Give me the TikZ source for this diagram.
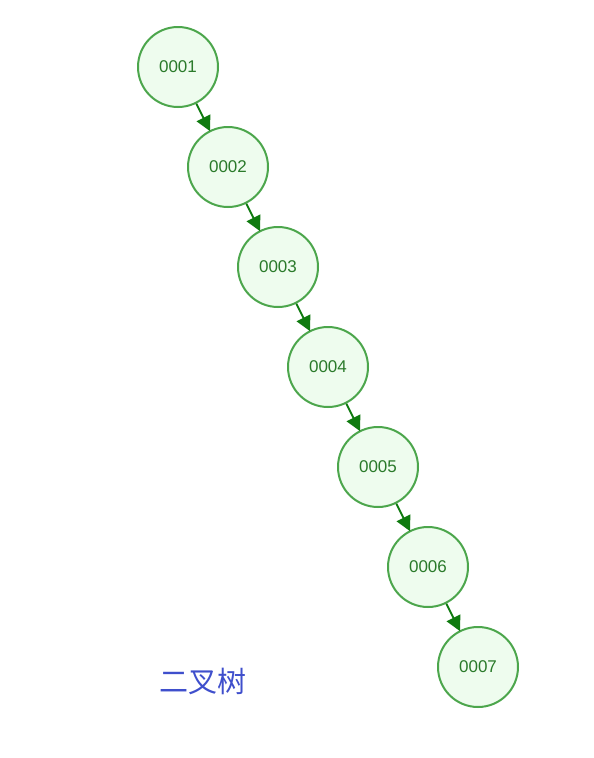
\documentclass[tikz,border=0pt]{standalone}
\usepackage{fontspec}
\setmainfont{Liberation Sans}
\newfontfamily\cjk{Noto Sans CJK SC}
\usetikzlibrary{arrows.meta}
\definecolor{nodeline}{HTML}{4CA64C}
\definecolor{nodefill}{HTML}{EEFCEE}
\definecolor{nodetext}{HTML}{2A7A2A}
\definecolor{arrowcol}{HTML}{0E7A0E}
\definecolor{labelblue}{HTML}{3F4FCC}
\begin{document}
\begin{tikzpicture}[x=1pt,y=-1pt,
  treenode/.style={circle,draw=nodeline,fill=nodefill,line width=2pt,minimum size=80pt,inner sep=0pt,text=nodetext,font=\fontsize{17}{19}\selectfont},
  link/.style={draw=arrowcol,line width=1.8pt,-{Triangle[length=15pt,width=15pt]},shorten >=-1pt}]
\useasboundingbox (0,0) rectangle (594,758);
\node[treenode] (n1) at (178,67) {0001};
\node[treenode] (n2) at (228,167) {0002};
\node[treenode] (n3) at (278,267) {0003};
\node[treenode] (n4) at (328,367) {0004};
\node[treenode] (n5) at (378,467) {0005};
\node[treenode] (n6) at (428,567) {0006};
\node[treenode] (n7) at (478,667) {0007};
\foreach \a/\b in {n1/n2,n2/n3,n3/n4,n4/n5,n5/n6,n6/n7}
  \draw[link] (\a) -- (\b);
\node[text=labelblue,font=\cjk\fontsize{29}{32}\selectfont] (lbl) at (203,681) {二叉树};
\end{tikzpicture}
\end{document}
